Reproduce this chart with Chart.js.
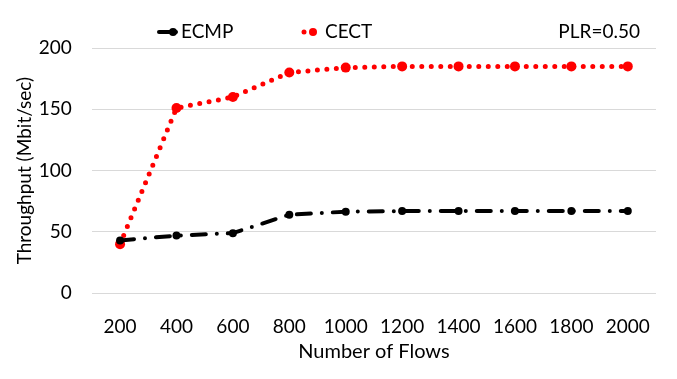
<!DOCTYPE html>
<html><head><meta charset="utf-8">
<script src="https://cdn.jsdelivr.net/npm/chart.js@4"></script>
<style>html,body{margin:0;padding:0;background:#fff}#wrap{width:677px;height:379px}</style>
</head><body><div id="wrap"><canvas id="c" width="677" height="379"></canvas></div>
<script>
const categories = ['200','400','600','800','1000','1200','1400','1600','1800','2000'];
const ecmp = [43, 47, 49, 64, 66.5, 67, 67, 67, 67, 67];
const cect = [40, 151, 160, 180, 184, 185, 185, 185, 185, 185];
const yTicks = [0, 50, 100, 150, 200];
const FONT = 'Lato, "Open Sans", sans-serif';

const legendPlugin = {
  id: 'customLegend',
  afterDraw(chart) {
    const ctx = chart.ctx;
    ctx.save();
    const y = 32;
    ctx.strokeStyle = '#000'; ctx.lineWidth = 4; ctx.lineCap = 'round';
    ctx.beginPath(); ctx.moveTo(159, y); ctx.lineTo(176, y); ctx.stroke();
    ctx.fillStyle = '#000'; ctx.beginPath(); ctx.arc(173, y, 4, 0, Math.PI*2); ctx.fill();
    ctx.font = '19px ' + FONT; ctx.textBaseline = 'middle'; ctx.textAlign = 'left';
    ctx.fillText('ECMP', 181, y);
    ctx.fillStyle = '#ff0000';
    ctx.beginPath(); ctx.arc(304, y, 2.5, 0, Math.PI*2); ctx.fill();
    ctx.beginPath(); ctx.arc(313, y, 4, 0, Math.PI*2); ctx.fill();
    ctx.fillStyle = '#000';
    ctx.fillText('CECT', 325, y);
    ctx.textAlign = 'right';
    ctx.fillText('PLR=0.50', 640, y);
    ctx.restore();
  }
};

new Chart(document.getElementById('c'), {
  type: 'line',
  data: {
    labels: categories,
    datasets: [
      { label: 'ECMP', data: ecmp, borderColor: '#000', backgroundColor: '#000',
        borderWidth: 4, borderDash: [14, 11, 0, 11], borderCapStyle: 'round',
        pointRadius: 4, pointBorderWidth: 0, pointBackgroundColor: '#000', tension: 0 },
      { label: 'CECT', data: cect, borderColor: '#ff0000', backgroundColor: '#ff0000',
        borderWidth: 5, borderDash: [0, 9.5], borderCapStyle: 'round',
        pointRadius: 5, pointBorderWidth: 0, pointBackgroundColor: '#ff0000', tension: 0 }
    ]
  },
  options: {
    responsive: false, animation: false,
    layout: { padding: { top: 48, right: 21, left: 13, bottom: 15 } },
    plugins: { legend: { display: false }, tooltip: { enabled: false } },
    scales: {
      x: {
        offset: true,
        grid: { display: false, drawTicks: false },
        border: { display: false },
        ticks: { color: '#000', font: { family: FONT, size: 19 }, padding: 22, maxRotation: 0, autoSkip: false },
        title: { display: true, text: 'Number of Flows', color: '#000', font: { family: FONT, size: 20 }, padding: { top: -20, bottom: 0 } }
      },
      y: {
        min: 0, max: 200,
        afterBuildTicks(axis) { axis.ticks = yTicks.map(v => ({ value: v })); },
        grid: { color: '#d9d9d9', lineWidth: 1, drawTicks: false },
        border: { display: false },
        ticks: { color: '#000', font: { family: FONT, size: 19 }, padding: 20 },
        title: { display: true, text: 'Throughput (Mbit/sec)', color: '#000', font: { family: FONT, size: 19 }, padding: { top: 0, bottom: -17 } }
      }
    }
  },
  plugins: [legendPlugin]
});
</script>
</body></html>
